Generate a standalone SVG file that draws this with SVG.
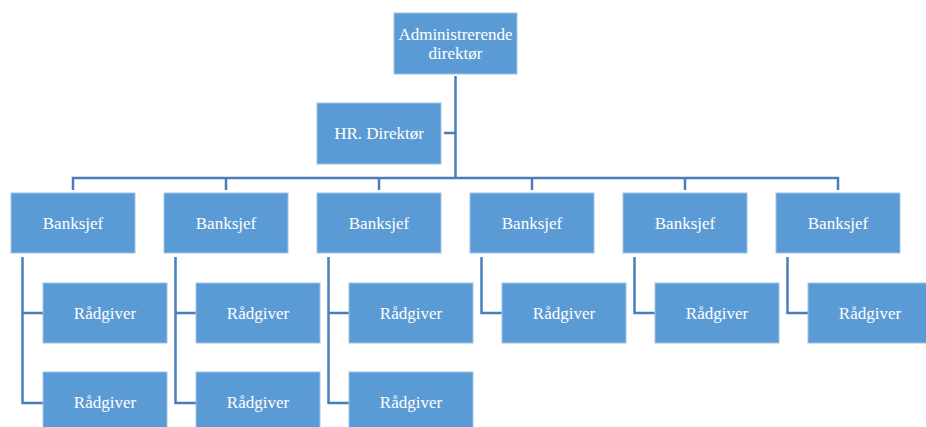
<svg xmlns="http://www.w3.org/2000/svg" width="926" height="427" viewBox="0 0 926 427">
<style>
.box{fill:#5b9bd5;stroke:#9fc3e6;stroke-width:1}
.t{font-family:"Liberation Serif","Times New Roman",serif;font-size:17px;fill:#ffffff;text-anchor:middle;dominant-baseline:central}
.c{fill:none;stroke:#4a7ebb;stroke-width:2.5}
</style>
<rect width="926" height="427" fill="#ffffff"/>
<g id="connectors">
<path class="c" d="M455.5 76V178M444 133H455.5M73 190V178H838V190M226 178V190M379 178V190M532 178V190M685 178V190"/>
<path class="c" d="M22.5 257V403H43M22.5 313H43"/>
<path class="c" d="M175.5 257V403H196M175.5 313H196"/>
<path class="c" d="M328.5 257V403H349M328.5 313H349"/>
<path class="c" d="M481.5 257V313H502"/>
<path class="c" d="M634.5 257V313H655"/>
<path class="c" d="M787.5 257V313H808"/>
</g>
<g id="ceo"><rect class="box" x="394" y="13" width="123" height="61"/><text class="t" x="455.5" y="34">Administrerende</text><text class="t" x="455.5" y="53">direktør</text></g>
<g id="hr"><rect class="box" x="317" y="103" width="124" height="61"/><text class="t" x="379" y="133.5">HR. Direktør</text></g>
<g id="b1"><rect class="box" x="11" y="193" width="124" height="60"/><text class="t" x="73" y="223">Banksjef</text></g>
<g id="b2"><rect class="box" x="164" y="193" width="124" height="60"/><text class="t" x="226" y="223">Banksjef</text></g>
<g id="b3"><rect class="box" x="317" y="193" width="124" height="60"/><text class="t" x="379" y="223">Banksjef</text></g>
<g id="b4"><rect class="box" x="470" y="193" width="124" height="60"/><text class="t" x="532" y="223">Banksjef</text></g>
<g id="b5"><rect class="box" x="623" y="193" width="124" height="60"/><text class="t" x="685" y="223">Banksjef</text></g>
<g id="b6"><rect class="box" x="776" y="193" width="124" height="60"/><text class="t" x="838" y="223">Banksjef</text></g>
<g id="r1a"><rect class="box" x="43" y="283" width="124" height="60"/><text class="t" x="105" y="313">Rådgiver</text></g>
<g id="r1b"><rect class="box" x="43" y="372" width="124" height="60"/><text class="t" x="105" y="402">Rådgiver</text></g>
<g id="r2a"><rect class="box" x="196" y="283" width="124" height="60"/><text class="t" x="258" y="313">Rådgiver</text></g>
<g id="r2b"><rect class="box" x="196" y="372" width="124" height="60"/><text class="t" x="258" y="402">Rådgiver</text></g>
<g id="r3a"><rect class="box" x="349" y="283" width="124" height="60"/><text class="t" x="411" y="313">Rådgiver</text></g>
<g id="r3b"><rect class="box" x="349" y="372" width="124" height="60"/><text class="t" x="411" y="402">Rådgiver</text></g>
<g id="r4"><rect class="box" x="502" y="283" width="124" height="60"/><text class="t" x="564" y="313">Rådgiver</text></g>
<g id="r5"><rect class="box" x="655" y="283" width="124" height="60"/><text class="t" x="717" y="313">Rådgiver</text></g>
<g id="r6"><rect class="box" x="808" y="283" width="124" height="60"/><text class="t" x="870" y="313">Rådgiver</text></g>
</svg>
